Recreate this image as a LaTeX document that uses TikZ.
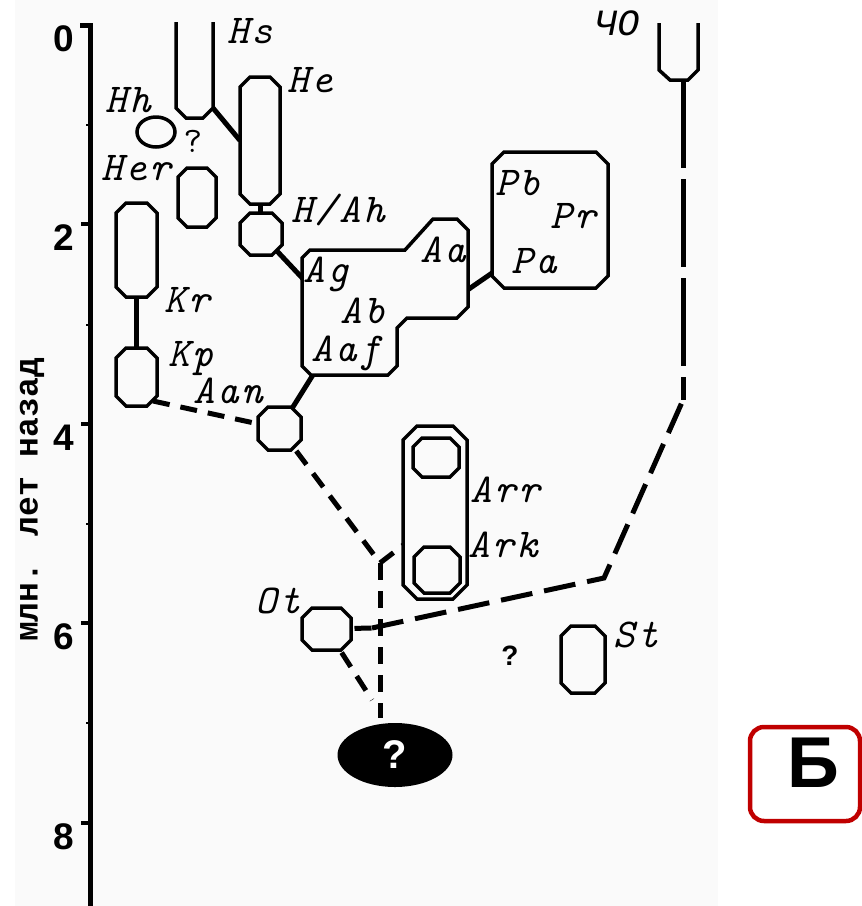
\documentclass[tikz,border=0pt]{standalone}
\usepackage{fontspec}
\setmainfont{Liberation Serif}
\newfontfamily\lblfont{Liberation Mono}
\newfontfamily\lmwide{Latin Modern Mono}[LetterSpace=6]
\newfontfamily\sansb{Liberation Sans}
\usetikzlibrary{fit,shapes.geometric}
\definecolor{bg}{RGB}{250,250,250}
\definecolor{redbox}{RGB}{192,0,0}
\tikzset{
  shp/.style={line width=3.5pt, draw=black, fill=bg},
  conn/.style={line width=5pt},
  dsh/.style={line width=5pt, dash pattern=on 17pt off 11pt},
  dshlong/.style={line width=5pt, dash pattern=on 32pt off 12pt},
  dshvert/.style={line width=5pt, dash pattern=on 88pt off 11pt},
  lbl/.style={anchor=base west, inner sep=0pt, font=\lmwide\itshape\fontsize{41}{43}\selectfont},
  lblcyr/.style={anchor=base west, inner sep=0pt, font=\lblfont\itshape\fontsize{37}{40}\selectfont},
  digit/.style={anchor=base east, inner sep=0pt, font=\sansb\bfseries\fontsize{37}{38}\selectfont},
  boxarea/.style={inner sep=0pt, outer sep=0pt},
}
\newcommand\defbox[5]{\node[boxarea, fit={(#2,#3) (#4,#5)}] (#1) {};}
\newcommand\drawbox[2]{%
  \draw[shp] ([xshift=#2pt]#1.north west) -- ([xshift=-#2pt]#1.north east) -- ([yshift=-#2pt]#1.north east) -- ([yshift=#2pt]#1.south east) -- ([xshift=-#2pt]#1.south east) -- ([xshift=#2pt]#1.south west) -- ([yshift=#2pt]#1.south west) -- ([yshift=-#2pt]#1.north west) -- cycle;}
\begin{document}
\begin{tikzpicture}[x=1pt,y=-1pt]
\useasboundingbox (0,0) rectangle (862,906);
\fill[white] (0,0) rectangle (862,906);
\fill[bg] (15,0) rectangle (718,906);
% axis
\draw[line width=5pt] (80,25) -- (90,25) -- (90,906);
\foreach \v/\y in {0/25,2/224,4/424,6/623,8/823}{
  \draw[line width=4pt] (81,\y) -- (90,\y);
  \node[digit] (d\v) at (74,\y+26) {\v};
}
\foreach \y in {125,325,524,723}{\draw[line width=2pt] (86,\y) -- (90,\y);}
\node[rotate=90, inner sep=0pt, font=\lblfont\bfseries\fontsize{33}{35}\selectfont] (ylab) at (32,500) {млн. лет назад};
% box areas
\defbox{He}{240}{77}{280}{204}
\defbox{HAh}{240}{213}{282}{255}
\defbox{Her}{178}{168}{216}{227}
\defbox{Kr}{116}{203}{157}{297}
\defbox{Kp}{116}{348}{157}{406}
\defbox{Aan}{258}{407}{301}{450}
\defbox{Pb}{492}{152}{608}{288}
\defbox{ArrO}{403}{426}{467}{599}
\defbox{ArrI}{413}{438}{459}{477}
\defbox{ArkI}{414}{547}{460}{593}
\defbox{Ot}{302}{608}{351}{650}
\defbox{St}{561}{626}{605}{693}
\node[ellipse, boxarea, minimum width=38pt, minimum height=30pt] (Hh) at (156,132) {};
% coordinates
\coordinate (hsB) at (213,108);
\coordinate (chB) at (683,80);
\coordinate (R2) at (683,400);
\coordinate (R1) at (604,578);
\coordinate (J2) at (372,628);
\coordinate (J1) at (380,563);
\coordinate (vEnd) at (380,718);
\coordinate (otEnd) at (372,700);
\coordinate (agIn) at (306,282);
\coordinate (aanUp) at (316,370);
\coordinate (blkR) at (466,291);
\coordinate (pbL) at (495,271);
\coordinate (kpOut) at (153,401);
\coordinate (arrIn) at (406,543);
% connectors
\draw[conn] (hsB) -- (He.west);
\draw[conn] (He.center) -- (He.center |- HAh.center);
\draw[conn] (HAh.center) -- (agIn);
\draw[conn] (Aan.center) -- (aanUp);
\draw[conn] (blkR) -- (pbL);
\draw[conn] (Kr.center) -- (Kp.center);
\draw[dsh] (kpOut) -- (Aan.center);
\draw[dsh] (Aan.center) -- (J1);
\draw[dsh] (J1) -- (arrIn);
\draw[dsh] (J1) -- (vEnd);
\draw[dsh] (Ot.center) -- (J2);
\draw[dsh] (Ot.center) -- (otEnd);
\draw[dshlong] (J2) -- (R1) -- (R2);
\draw[dshvert] (chB) -- (R2);
% shapes
\draw[line width=3.5pt] (176,22) -- (176,108) -- (186,118) -- (203,118) -- (213,108) -- (213,22);
\draw[line width=3.5pt] (659,23) -- (659,70) -- (670,80) -- (688,80) -- (698,70) -- (698,23);
\drawbox{He}{10}
\drawbox{HAh}{10}
\drawbox{Her}{9}
\drawbox{Kr}{10}
\drawbox{Kp}{10}
\drawbox{Aan}{10}
\drawbox{Pb}{12}
\drawbox{ArrO}{14}
\drawbox{ArrI}{9}
\drawbox{ArkI}{10}
\drawbox{Ot}{10}
\drawbox{St}{10}
\draw[shp] (Hh.center) ellipse [x radius=19, y radius=15];
\draw[shp] (302,258) -- (310,250) -- (405,250) -- (433,219) -- (457,219) -- (468,230) -- (468,307) -- (457,318) -- (407,318) -- (397,328) -- (397,366) -- (388,375) -- (311,375) -- (302,366) -- cycle;
\node[ellipse, fill=black, minimum width=115pt, minimum height=64pt, inner sep=0pt, text=white, font=\sansb\bfseries\fontsize{40}{40}\selectfont] (q) at (395,755) {?};
% labels
\node[lbl] (tHs) at (227,43) {Hs};
\node[lbl] (tHe) at (287,92) {He};
\node[lbl] (tHh) at (105,112) {Hh};
\node[lbl] (tHer) at (101,180) {Her};
\node[lbl] (tHAh) at (291,222) {H/Ah};
\node[lbl] (tKr) at (164,312) {Kr};
\node[lbl] (tKp) at (168,366) {Kp};
\node[lbl] (tAan) at (193,403) {Aan};
\node[lbl] (tAg) at (303,282) {Ag};
\node[lbl] (tAb) at (340,323) {Ab};
\node[lbl] (tAaf) at (311,361) {Aaf};
\node[lbl] (tAa) at (420,262) {Aa};
\node[lbl] (tPb) at (495,195) {Pb};
\node[lbl] (tPr) at (550,228) {Pr};
\node[lbl] (tPa) at (511,273) {Pa};
\node[lblcyr] (tCO) at (595,35) {ЧО};
\node[lbl] (tArr) at (470,502) {Arr};
\node[lbl] (tArk) at (468,557) {Ark};
\node[lbl] (tOt) at (255,613) {Ot};
\node[lbl] (tSt) at (613,647) {St};
\node[inner sep=0pt, font=\ttfamily\fontsize{36}{38}\selectfont] (q1) at (193,141) {?};
\node[inner sep=0pt, font=\sansb\bfseries\fontsize{28}{30}\selectfont] (q2) at (510,656) {?};
% B box
\node[draw=redbox, line width=4.5pt, rounded corners=14pt, minimum width=110pt, minimum height=94pt, inner sep=0pt] (bbox) at (805,774) {};
\node[inner sep=0pt, font=\sansb\bfseries\fontsize{72}{72}\selectfont] (bb) at (813,763) {Б};
\end{tikzpicture}
\end{document}
